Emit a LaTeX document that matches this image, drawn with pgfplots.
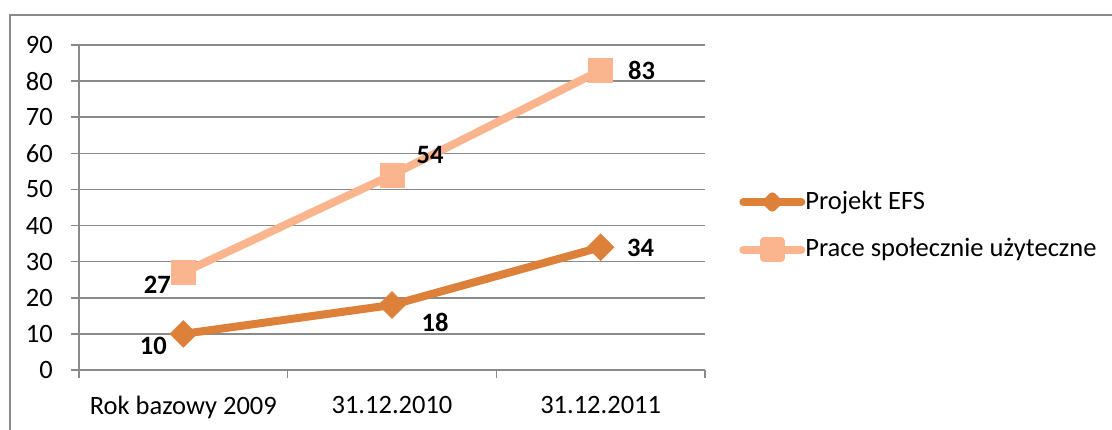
\documentclass[border=0pt]{standalone}
\usepackage{fontspec}
\setmainfont{Carlito}
\usepackage{pgfplots}
\usepackage{pgfplotstable}
\pgfplotsset{compat=1.18}
\definecolor{efs}{RGB}{221,128,58}
\definecolor{prace}{RGB}{250,181,142}
\definecolor{gridc}{RGB}{138,138,138}

\pgfplotstableread{
x y lab dx dy
0 10 10 -30 -12
1 18 18 43 -17
2 34 34 40 -1
}\efsdata
\pgfplotstableread{
x y lab dx dy
0 27 27 -26 -12
1 54 54 38 20
2 83 83 41 0
}\pracedata

\begin{document}
\fontsize{26.5}{31}\selectfont
\begin{tikzpicture}[x=1pt,y=1pt]
\useasboundingbox (0,0) rectangle (1112,429);
\begin{axis}[
  at={(79pt,59pt)}, anchor=south west,
  scale only axis, width=626pt, height=325pt,
  xmin=-0.5, xmax=2.5, ymin=0, ymax=90,
  ytick={0,10,...,90},
  xtick={-0.5,0.5,1.5,2.5}, xticklabels={},
  extra x ticks={0,1,2},
  extra x tick labels={Rok bazowy 2009,31.12.2010,31.12.2011},
  extra x tick style={major tick length=0pt, grid=none,
     tick label style={inner sep=0pt, anchor=north, yshift=-26pt}},
  ymajorgrids,
  grid style={gridc, line width=1.5pt},
  axis x line*=bottom, axis y line*=left,
  axis line style={gridc, line width=1.5pt, -},
  tick style={gridc, line width=1.5pt},
  tick align=outside, major tick length=8pt,
  /pgf/number format/assume math mode=true,
  ticklabel style={font=\fontsize{26.5}{31}\selectfont, text=black},
  yticklabel style={inner sep=0pt, anchor=east, xshift=-18pt},
  clip=false,
  legend style={draw=none, fill=none, at={(1.0545,0.4415)}, anchor=west,
     inner sep=0pt, row sep=24pt, nodes={inner sep=0pt},
     font=\fontsize{26.5}{31}\selectfont},
  legend cell align=left,
  nodes near coords style={anchor=center, text=black, inner sep=0pt,
     font=\bfseries\fontsize{26.5}{31}\selectfont},
]
\addplot[color=efs, line width=8pt, line join=round,
  mark=square*, mark size=9.5pt,
  mark options={rotate=45, line width=0.5pt, fill=efs, draw=efs},
  point meta=explicit symbolic, nodes near coords,
  visualization depends on={\thisrow{dx} \as \dx},
  visualization depends on={\thisrow{dy} \as \dy},
  every node near coord/.append style={xshift=\dx, yshift=\dy},
  legend image code/.code={
    \draw[efs, line width=8pt, line cap=round] (0pt,0pt) -- (58pt,0pt);
    \fill[efs, rotate around={45:(29pt,0pt)}] (25pt,-4pt) rectangle (33pt,4pt);}
] table[x=x, y=y, meta=lab] {\efsdata};
\addlegendentry{Projekt EFS}
\addplot[color=prace, line width=8pt, line join=round,
  mark=square*, mark size=12pt,
  mark options={line width=0.5pt, fill=prace, draw=prace},
  point meta=explicit symbolic, nodes near coords,
  visualization depends on={\thisrow{dx} \as \dx},
  visualization depends on={\thisrow{dy} \as \dy},
  every node near coord/.append style={xshift=\dx, yshift=\dy},
  legend image code/.code={
    \draw[prace, line width=8pt, line cap=round] (0pt,0pt) -- (58pt,0pt);
    \fill[prace] (20.5pt,-8.5pt) rectangle (37.5pt,8.5pt);}
] table[x=x, y=y, meta=lab] {\pracedata};
\addlegendentry{Prace społecznie użyteczne}
\end{axis}
\draw[gridc, line width=1.5pt] (10,-20) -- (10,414) -- (1130,414);
\end{tikzpicture}
\end{document}
